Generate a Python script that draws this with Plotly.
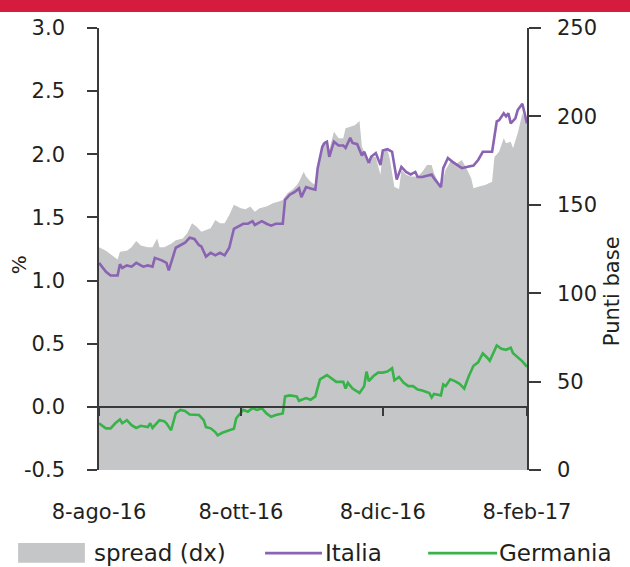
import plotly.graph_objects as go

# ---- data -------------------------------------------------------------
ita_dates = [
    "2016-08-08", "2016-08-11", "2016-08-13", "2016-08-16", "2016-08-17", "2016-08-18",
    "2016-08-20", "2016-08-22", "2016-08-24", "2016-08-27", "2016-08-29", "2016-08-31",
    "2016-09-01", "2016-09-04", "2016-09-06", "2016-09-07", "2016-09-10", "2016-09-12",
    "2016-09-14", "2016-09-16", "2016-09-18", "2016-09-20", "2016-09-21", "2016-09-23",
    "2016-09-25", "2016-09-27", "2016-09-29", "2016-10-01", "2016-10-03", "2016-10-05",
    "2016-10-07", "2016-10-09", "2016-10-11", "2016-10-13", "2016-10-14", "2016-10-17",
    "2016-10-19", "2016-10-21", "2016-10-23", "2016-10-26", "2016-10-27", "2016-10-29",
    "2016-10-31", "2016-11-02", "2016-11-03", "2016-11-05", "2016-11-07", "2016-11-09",
    "2016-11-10", "2016-11-12", "2016-11-13", "2016-11-14", "2016-11-15", "2016-11-17",
    "2016-11-19", "2016-11-21", "2016-11-22", "2016-11-24", "2016-11-25", "2016-11-27",
    "2016-11-29", "2016-11-30", "2016-12-02", "2016-12-03", "2016-12-05", "2016-12-07",
    "2016-12-08", "2016-12-10", "2016-12-12", "2016-12-14", "2016-12-16", "2016-12-18",
    "2016-12-20", "2016-12-22", "2016-12-23", "2016-12-25", "2016-12-27", "2016-12-29",
    "2016-12-30", "2017-01-02", "2017-01-03", "2017-01-05", "2017-01-07", "2017-01-09",
    "2017-01-11", "2017-01-13", "2017-01-16", "2017-01-18", "2017-01-20", "2017-01-22",
    "2017-01-24", "2017-01-26", "2017-01-27", "2017-01-29", "2017-01-30", "2017-01-31",
    "2017-02-01", "2017-02-03", "2017-02-04", "2017-02-06", "2017-02-07", "2017-02-08",
]
ita_vals = [
    1.14, 1.07, 1.04, 1.04, 1.13, 1.10,
    1.12, 1.11, 1.14, 1.11, 1.12, 1.11,
    1.18, 1.16, 1.14, 1.08, 1.26, 1.28,
    1.30, 1.34, 1.33, 1.28, 1.27, 1.19,
    1.22, 1.20, 1.22, 1.20, 1.26, 1.41,
    1.43, 1.45, 1.45, 1.47, 1.44, 1.47,
    1.45, 1.435, 1.45, 1.45, 1.64, 1.68,
    1.70, 1.73, 1.66, 1.74, 1.73, 1.72,
    1.89, 2.06, 2.09, 2.10, 1.98, 2.10,
    2.07, 2.07, 2.05, 2.13, 2.09, 2.08,
    1.99, 2.02, 1.93, 1.98, 2.01, 1.915,
    2.03, 2.04, 2.02, 1.80, 1.90, 1.86,
    1.84, 1.86, 1.82, 1.82, 1.83, 1.84,
    1.81, 1.74, 1.89, 1.97, 1.94, 1.915,
    1.89, 1.90, 1.91, 1.955, 2.02, 2.02,
    2.02, 2.26, 2.27, 2.325, 2.30, 2.325,
    2.245, 2.285, 2.35, 2.40, 2.325, 2.245,
]

ger_dates = [
    "2016-08-08", "2016-08-11", "2016-08-13", "2016-08-15", "2016-08-17", "2016-08-18",
    "2016-08-20", "2016-08-22", "2016-08-24", "2016-08-26", "2016-08-29", "2016-08-30",
    "2016-08-31", "2016-09-02", "2016-09-03", "2016-09-05", "2016-09-06", "2016-09-08",
    "2016-09-10", "2016-09-12", "2016-09-14", "2016-09-16", "2016-09-18", "2016-09-20",
    "2016-09-22", "2016-09-23", "2016-09-25", "2016-09-27", "2016-09-28", "2016-09-30",
    "2016-10-03", "2016-10-05", "2016-10-06", "2016-10-08", "2016-10-09", "2016-10-11",
    "2016-10-13", "2016-10-15", "2016-10-17", "2016-10-19", "2016-10-21", "2016-10-23",
    "2016-10-26", "2016-10-27", "2016-10-29", "2016-11-01", "2016-11-02", "2016-11-05",
    "2016-11-07", "2016-11-09", "2016-11-11", "2016-11-14", "2016-11-16", "2016-11-18",
    "2016-11-21", "2016-11-22", "2016-11-23", "2016-11-25", "2016-11-28", "2016-11-30",
    "2016-12-01", "2016-12-02", "2016-12-04", "2016-12-06", "2016-12-08", "2016-12-10",
    "2016-12-12", "2016-12-13", "2016-12-15", "2016-12-17", "2016-12-19", "2016-12-21",
    "2016-12-23", "2016-12-25", "2016-12-28", "2016-12-29", "2016-12-30", "2017-01-02",
    "2017-01-03", "2017-01-04", "2017-01-06", "2017-01-08", "2017-01-10", "2017-01-12",
    "2017-01-14", "2017-01-16", "2017-01-18", "2017-01-20", "2017-01-22", "2017-01-23",
    "2017-01-26", "2017-01-28", "2017-01-30", "2017-02-01", "2017-02-02", "2017-02-04",
    "2017-02-06", "2017-02-08",
]
ger_vals = [
    -0.13, -0.17, -0.17, -0.13, -0.10, -0.13,
    -0.105, -0.145, -0.167, -0.15, -0.16, -0.13,
    -0.167, -0.13, -0.105, -0.113, -0.13, -0.185,
    -0.05, -0.024, -0.032, -0.06, -0.06, -0.065,
    -0.105, -0.16, -0.17, -0.20, -0.226, -0.205,
    -0.185, -0.173, -0.09, -0.05, -0.024, -0.038,
    -0.011, -0.024, -0.011, -0.052, -0.078, -0.065,
    -0.052, 0.083, 0.091, 0.083, 0.048, 0.069,
    0.056, 0.083, 0.218, 0.252, 0.226, 0.198,
    0.198, 0.145, 0.19, 0.145, 0.11, 0.164,
    0.279, 0.204, 0.244, 0.271, 0.271, 0.279,
    0.306, 0.21, 0.236, 0.19, 0.164, 0.164,
    0.137, 0.129, 0.11, 0.075, 0.102, 0.091,
    0.177, 0.164, 0.218, 0.204, 0.182, 0.145,
    0.244, 0.325, 0.352, 0.424, 0.387, 0.365,
    0.486, 0.46, 0.452, 0.468, 0.424, 0.392,
    0.36, 0.317,
]

spread_dates = [
    "2016-08-08", "2016-08-11", "2016-08-13", "2016-08-16", "2016-08-17", "2016-08-20",
    "2016-08-22", "2016-08-24", "2016-08-26", "2016-08-29", "2016-08-31", "2016-09-02",
    "2016-09-03", "2016-09-05", "2016-09-08", "2016-09-10", "2016-09-13", "2016-09-15",
    "2016-09-17", "2016-09-19", "2016-09-21", "2016-09-23", "2016-09-25", "2016-09-27",
    "2016-09-29", "2016-10-01", "2016-10-03", "2016-10-05", "2016-10-08", "2016-10-10",
    "2016-10-12", "2016-10-14", "2016-10-16", "2016-10-19", "2016-10-22", "2016-10-24",
    "2016-10-26", "2016-10-28", "2016-10-30", "2016-11-01", "2016-11-02", "2016-11-04",
    "2016-11-05", "2016-11-07", "2016-11-09", "2016-11-10", "2016-11-12", "2016-11-14",
    "2016-11-15", "2016-11-17", "2016-11-19", "2016-11-21", "2016-11-22", "2016-11-24",
    "2016-11-26", "2016-11-28", "2016-11-29", "2016-11-30", "2016-12-02", "2016-12-03",
    "2016-12-05", "2016-12-07", "2016-12-08", "2016-12-10", "2016-12-11", "2016-12-13",
    "2016-12-15", "2016-12-16", "2016-12-18", "2016-12-20", "2016-12-23", "2016-12-25",
    "2016-12-27", "2016-12-29", "2016-12-30", "2017-01-02", "2017-01-04", "2017-01-06",
    "2017-01-09", "2017-01-11", "2017-01-13", "2017-01-15", "2017-01-16", "2017-01-18",
    "2017-01-21", "2017-01-24", "2017-01-25", "2017-01-27", "2017-01-29", "2017-01-30",
    "2017-02-01", "2017-02-02", "2017-02-04", "2017-02-05", "2017-02-06", "2017-02-08",
]
spread_bp = [
    126, 124, 122, 119, 123.5, 124,
    126, 129.5, 127, 126, 126, 131,
    126, 126, 128, 130, 131, 134,
    139.5, 137.6, 134.8, 135.7, 136.7, 141.4,
    139.5, 139.5, 144.2, 150, 148, 147.5,
    149, 146, 148, 149, 151, 151.7,
    152.7, 156.5, 158.4, 161, 163, 168.7,
    166, 163, 161, 172.5, 184.8, 186.6,
    181, 191.3, 187.6, 187.6, 193.3, 194.2,
    195, 197.4, 183, 180, 172.5, 177,
    177, 167, 180, 181, 176, 160,
    159, 169.7, 167, 166, 166, 168.7,
    172.5, 172.5, 168, 160, 169.7, 174.4,
    173.5, 175.3, 170.6, 165, 159.3, 160.2,
    161.2, 163, 177, 180, 187.6, 184.8,
    185.7, 182, 190.4, 196, 201.7, 197,
]

x_tick_vals = ["2016-08-08", "2016-10-08", "2016-12-08", "2017-02-08"]
x_tick_text = ["8-ago-16", "8-ott-16", "8-dic-16", "8-feb-17"]
x_range = ["2016-08-08", "2017-02-08"]

pct_ticks = [-0.5, 0.0, 0.5, 1.0, 1.5, 2.0, 2.5, 3.0]
pct_labels = ["-0.5", "0.0", "0.5", "1.0", "1.5", "2.0", "2.5", "3.0"]
bp_ticks = [0, 50, 100, 150, 200, 250]

# ---- styling ----------------------------------------------------------
FONT = "DejaVu Sans"
TXT = "#231F20"
AXC = "#3a3a3a"
GRAY = "#C5C6C8"
PURPLE = "#8A63B2"
GREEN = "#38B34A"
RED = "#D51C3F"

fig = go.Figure()

# spread area on the right (bp) axis, drawn first so the lines sit on top
fig.add_trace(go.Scatter(
    x=spread_dates, y=spread_bp, name="spread (dx)",
    mode="lines", line=dict(width=0, color=GRAY),
    fill="tozeroy", fillcolor=GRAY,
    xaxis="x", yaxis="y", showlegend=False, hoverinfo="skip",
))
fig.add_trace(go.Scatter(
    x=ita_dates, y=ita_vals, name="Italia",
    mode="lines", line=dict(width=2.6, color=PURPLE),
    xaxis="x", yaxis="y2", showlegend=False,
))
fig.add_trace(go.Scatter(
    x=ger_dates, y=ger_vals, name="Germania",
    mode="lines", line=dict(width=2.6, color=GREEN),
    xaxis="x", yaxis="y2", showlegend=False,
))
# empty trace that registers the bottom label axis
fig.add_trace(go.Scatter(
    x=x_range, y=[None, None], mode="lines",
    xaxis="x2", yaxis="y", showlegend=False, hoverinfo="skip",
))

pct_lo, pct_hi = -0.5, 3.0
zero_pos = (0 - pct_lo) / (pct_hi - pct_lo)

fig.update_layout(
    width=630, height=567,
    margin=dict(l=99, r=103, t=28, b=97),
    paper_bgcolor="white", plot_bgcolor="white",
    font=dict(family=FONT, color=TXT, size=21),
    showlegend=False,
    # x axis drawn along the zero line, ticks only
    xaxis=dict(
        type="date", range=x_range, anchor="free", position=zero_pos,
        showline=True, linecolor=AXC, linewidth=1.6,
        ticks="outside", ticklen=8, tickwidth=1.6, tickcolor=AXC,
        tickvals=x_tick_vals, showticklabels=False,
        showgrid=False, zeroline=False,
    ),
    # second x axis at the bottom carrying the date labels
    xaxis2=dict(
        type="date", range=x_range, overlaying="x", anchor="y", side="bottom",
        showline=False, ticks="", tickvals=x_tick_vals, ticktext=x_tick_text,
        ticklabelstandoff=27, showgrid=False, zeroline=False,
        tickfont=dict(family=FONT, size=21, color=TXT),
    ),
    # right axis: basis points
    yaxis=dict(
        range=[0, 250], side="right", tickvals=bp_ticks,
        showline=True, linecolor=AXC, linewidth=1.6,
        ticks="outside", ticklen=12, tickwidth=1.6, tickcolor=AXC,
        ticklabelstandoff=12, showgrid=False, zeroline=False,
        tickfont=dict(family=FONT, size=21, color=TXT),
    ),
    # left axis: percent
    yaxis2=dict(
        range=[pct_lo, pct_hi], side="left", overlaying="y", anchor="x",
        tickvals=pct_ticks, ticktext=pct_labels,
        showline=True, linecolor=AXC, linewidth=1.6,
        ticks="outside", ticklen=10, tickwidth=1.6, tickcolor=AXC,
        ticklabelstandoff=18, showgrid=False, zeroline=False,
        tickfont=dict(family=FONT, size=21, color=TXT),
    ),
)

# axis titles
fig.add_annotation(text="%", xref="paper", yref="paper", x=-0.185, y=0.465,
                   xanchor="center", yanchor="middle",
                   showarrow=False, textangle=-90, font=dict(size=20))
fig.add_annotation(text="Punti base", xref="paper", yref="paper", x=1.199, y=0.405,
                   xanchor="center", yanchor="middle",
                   showarrow=False, textangle=-90, font=dict(size=21))

# red header band
fig.add_shape(type="rect", xref="paper", yref="paper",
              x0=-0.3, x1=1.3, y0=1 + 16 / 442, y1=1.08,
              fillcolor=RED, line=dict(width=0), layer="above")

# legend row
leg_y = -0.188
fig.add_shape(type="rect", xref="paper", yref="paper",
              x0=-0.189, x1=-0.033, y0=-0.165, y1=-0.210,
              fillcolor=GRAY, line=dict(width=0))
fig.add_annotation(text="spread (dx)", xref="paper", yref="paper", x=-0.016, y=leg_y,
                   xanchor="left", yanchor="middle", showarrow=False, font=dict(size=23))
fig.add_shape(type="line", xref="paper", yref="paper",
              x0=0.388, x1=0.521, y0=leg_y, y1=leg_y,
              line=dict(color=PURPLE, width=2.6))
fig.add_annotation(text="Italia", xref="paper", yref="paper", x=0.523, y=leg_y,
                   xanchor="left", yanchor="middle", showarrow=False, font=dict(size=23))
fig.add_shape(type="line", xref="paper", yref="paper",
              x0=0.769, x1=0.930, y0=leg_y, y1=leg_y,
              line=dict(color=GREEN, width=2.6))
fig.add_annotation(text="Germania", xref="paper", yref="paper", x=0.930, y=leg_y,
                   xanchor="left", yanchor="middle", showarrow=False, font=dict(size=23))

fig.write_html("out.html")
